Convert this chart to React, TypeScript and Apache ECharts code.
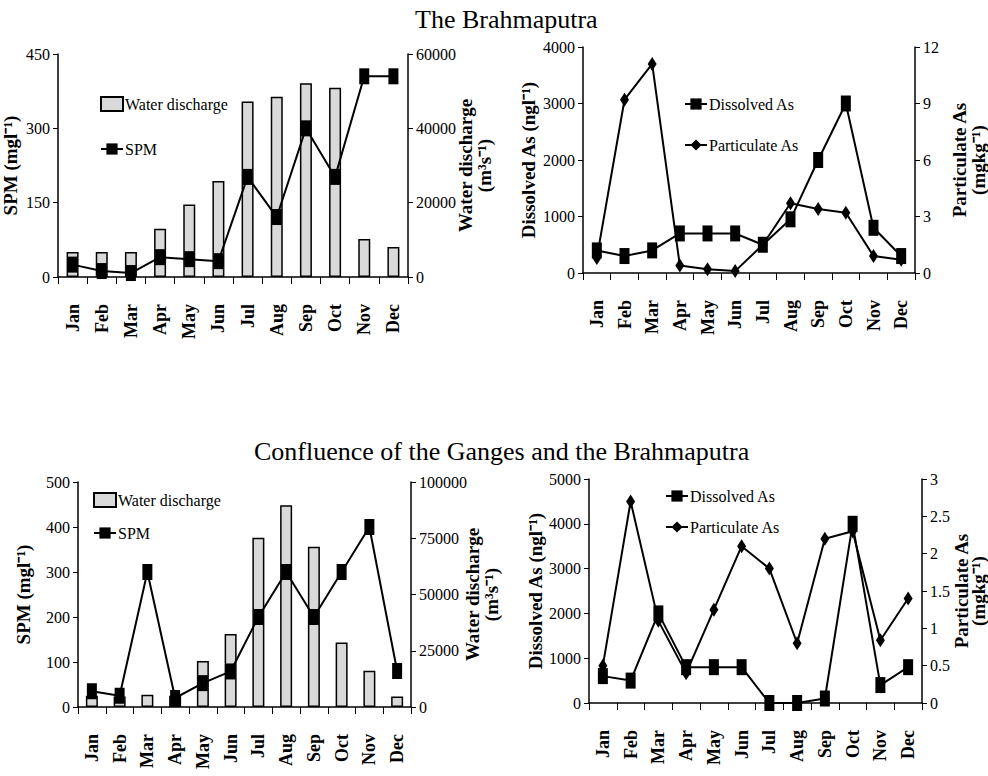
import React, { useEffect, useRef } from "react";
import * as echarts from "echarts";

const months = ["Jan", "Feb", "Mar", "Apr", "May", "Jun", "Jul", "Aug", "Sep", "Oct", "Nov", "Dec"];

// The Brahmaputra
const brahmaDischarge = [6700, 6700, 6700, 13000, 19500, 25800, 47200, 48500, 52100, 50900, 10200, 8100];
const brahmaSPM = [25, 12, 8, 40, 36, 32, 202, 121, 300, 202, 405, 405];
const brahmaDissolved = [400, 300, 400, 700, 700, 700, 500, 950, 2000, 3000, 800, 300];
const brahmaParticulate = [0.8, 9.2, 11.1, 0.4, 0.2, 0.1, 1.5, 3.7, 3.4, 3.2, 0.9, 0.7];

// Confluence of the Ganges and the Brahmaputra
const confDischarge = [5000, 4700, 5500, 5000, 20500, 32500, 75200, 89700, 71200, 28700, 16100, 4700];
const confSPM = [35, 25, 300, 20, 53, 79, 200, 300, 200, 300, 400, 80];
const confDissolved = [600, 500, 2000, 800, 800, 800, 0, 0, 100, 4000, 400, 800];
const confParticulate = [0.5, 2.7, 1.1, 0.4, 1.25, 2.1, 1.8, 0.8, 2.2, 2.3, 0.84, 1.4];

const titles = ["The Brahmaputra", "Confluence of the Ganges and the Brahmaputra"];

const FONT = "'Liberation Serif', 'Times New Roman', serif";
const INK = "#000";

function xAxisFor(gridIndex: number) {
  return {
    type: "category",
    gridIndex,
    data: months,
    boundaryGap: true,
    axisLine: { lineStyle: { color: INK, width: 1.5 } },
    axisTick: { show: true, alignWithLabel: false, length: 7, lineStyle: { color: INK, width: 1 } },
    axisLabel: {
      rotate: 90,
      margin: 27,
      fontFamily: FONT,
      fontWeight: "bold",
      fontSize: 18,
      color: INK,
      interval: 0,
    },
    splitLine: { show: false },
  };
}

function yAxisFor(
  gridIndex: number,
  position: "left" | "right",
  min: number,
  max: number,
  interval: number,
  name: string,
  nameGap: number,
  nameLineHeight = 19
) {
  return {
    type: "value",
    gridIndex,
    position,
    min,
    max,
    interval,
    name,
    nameLocation: "middle",
    nameGap,
    nameRotate: 90,
    nameMoveOverlap: false,
    nameTextStyle: {
      fontFamily: FONT,
      fontWeight: "bold",
      fontSize: 19,
      color: INK,
      lineHeight: nameLineHeight,
    },
    axisLine: { show: true, lineStyle: { color: INK, width: 1.5 } },
    axisTick: { show: true, length: 5, lineStyle: { color: INK, width: 1 } },
    axisLabel: {
      fontFamily: FONT,
      fontSize: 16,
      color: INK,
      margin: 8,
      formatter: (v: number) => String(v),
    },
    splitLine: { show: false },
  };
}

const barStyle = { color: "#d9d9d9", borderColor: INK, borderWidth: 1.5 };

const legendBase = {
  orient: "vertical",
  padding: 0,
  itemWidth: 22,
  itemHeight: 14,
  textStyle: { fontFamily: FONT, fontSize: 16, color: INK, padding: [0, 0, 0, -3] },
};

export default function App() {
  const ref = useRef<HTMLDivElement>(null);

  useEffect(() => {
    if (!ref.current) return;
    const chart = echarts.init(ref.current, undefined, { renderer: "svg" });

    const option: any = {
      animation: false,
      backgroundColor: "#fff",
      textStyle: { fontFamily: FONT, color: INK },
      title: [
        {
          text: titles[0],
          left: 410,
          top: 1,
          textStyle: { fontFamily: FONT, fontWeight: "normal", fontSize: 26, color: INK },
        },
        {
          text: titles[1],
          left: 249,
          top: 433,
          textStyle: { fontFamily: FONT, fontWeight: "normal", fontSize: 26, color: INK },
        },
      ],
      grid: [
        { left: 58, top: 54, width: 350, height: 223, outerBoundsMode: "none", containLabel: false },
        { left: 583, top: 47, width: 332, height: 226, outerBoundsMode: "none", containLabel: false },
        { left: 78, top: 482, width: 333, height: 225, outerBoundsMode: "none", containLabel: false },
        { left: 589, top: 479, width: 333, height: 224, outerBoundsMode: "none", containLabel: false },
      ],
      xAxis: [xAxisFor(0), xAxisFor(1), xAxisFor(2), xAxisFor(3)],
      yAxis: [
        yAxisFor(0, "left", 0, 450, 150, "SPM (mgl⁻¹)", 38),
        yAxisFor(0, "right", 0, 60000, 20000, "Water discharge\n(m³s⁻¹)", 48),
        yAxisFor(1, "left", 0, 4000, 1000, "Dissolved As (ngl⁻¹)", 45),
        yAxisFor(1, "right", 0, 12, 3, "Particulate As\n(mgkg⁻¹)", 35),
        yAxisFor(2, "left", 0, 500, 100, "SPM (mgl⁻¹)", 45),
        yAxisFor(2, "right", 0, 100000, 25000, "Water discharge\n(m³s⁻¹)", 52),
        yAxisFor(3, "left", 0, 5000, 1000, "Dissolved As (ngl⁻¹)", 44),
        yAxisFor(3, "right", 0, 3, 0.5, "Particulate As\n(mgkg⁻¹)", 31, 17),
      ],
      legend: [
        {
          ...legendBase,
          left: 100,
          top: 96,
          itemGap: 29,
          data: [{ name: "Water discharge", icon: "rect" }, { name: "SPM" }],
        },
        {
          ...legendBase,
          left: 684,
          top: 96,
          itemGap: 25,
          data: [{ name: "Dissolved As" }, { name: "Particulate As" }],
        },
        {
          ...legendBase,
          left: 93,
          top: 492,
          itemGap: 17,
          data: [{ name: "Water discharge", icon: "rect" }, { name: "SPM" }],
        },
        {
          ...legendBase,
          left: 665,
          top: 488,
          itemGap: 15,
          data: [{ name: "Dissolved As" }, { name: "Particulate As" }],
        },
      ],
      series: [
        {
          name: "Water discharge",
          type: "bar",
          xAxisIndex: 0,
          yAxisIndex: 1,
          barWidth: 12,
          itemStyle: barStyle,
          data: brahmaDischarge,
          z: 1,
        },
        {
          name: "SPM",
          type: "line",
          xAxisIndex: 0,
          yAxisIndex: 0,
          symbol: "rect",
          symbolSize: [10, 16],
          lineStyle: { color: INK, width: 2 },
          itemStyle: { color: INK },
          data: brahmaSPM,
          z: 3,
        },
        {
          name: "Dissolved As",
          type: "line",
          xAxisIndex: 1,
          yAxisIndex: 2,
          symbol: "rect",
          symbolSize: [10, 16],
          lineStyle: { color: INK, width: 2 },
          itemStyle: { color: INK },
          data: brahmaDissolved,
          z: 3,
        },
        {
          name: "Particulate As",
          type: "line",
          xAxisIndex: 1,
          yAxisIndex: 3,
          symbol: "diamond",
          symbolSize: [9, 14],
          lineStyle: { color: INK, width: 2 },
          itemStyle: { color: INK },
          data: brahmaParticulate,
          z: 3,
        },
        {
          name: "Water discharge",
          type: "bar",
          xAxisIndex: 2,
          yAxisIndex: 5,
          barWidth: 12,
          itemStyle: barStyle,
          data: confDischarge,
          z: 1,
        },
        {
          name: "SPM",
          type: "line",
          xAxisIndex: 2,
          yAxisIndex: 4,
          symbol: "rect",
          symbolSize: [10, 16],
          lineStyle: { color: INK, width: 2 },
          itemStyle: { color: INK },
          data: confSPM,
          z: 3,
        },
        {
          name: "Dissolved As",
          type: "line",
          xAxisIndex: 3,
          yAxisIndex: 6,
          symbol: "rect",
          symbolSize: [10, 16],
          lineStyle: { color: INK, width: 2 },
          itemStyle: { color: INK },
          data: confDissolved,
          z: 3,
        },
        {
          name: "Particulate As",
          type: "line",
          xAxisIndex: 3,
          yAxisIndex: 7,
          symbol: "diamond",
          symbolSize: [9, 14],
          lineStyle: { color: INK, width: 2 },
          itemStyle: { color: INK },
          data: confParticulate,
          z: 3,
        },
      ],
    };

    chart.setOption(option);
    return () => chart.dispose();
  }, []);

  return (
    <div
      ref={ref}
      style={{ position: "fixed", left: 0, top: 0, width: 988, height: 776, background: "#fff" }}
    />
  );
}
